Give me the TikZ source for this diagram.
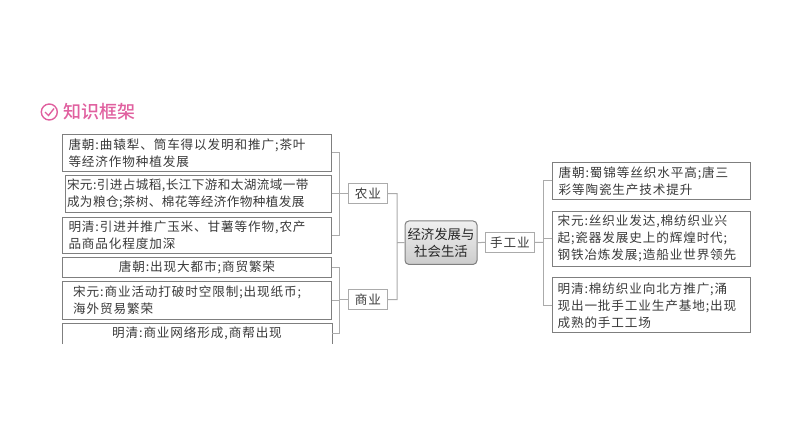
\documentclass[tikz,border=0pt]{standalone}
\usepackage{fontspec}
\newfontfamily\cjk[LetterSpace=7]{Noto Sans CJK SC}
\newfontfamily\cjktight[LetterSpace=3.2]{Noto Sans CJK SC}
\newfontfamily\cjkplain{Noto Sans CJK SC}
\newfontfamily\cjktitle{Noto Sans CJK SC Medium}
\usetikzlibrary{calc}
\definecolor{boxgray}{HTML}{7F7F7F}
\definecolor{linegray}{HTML}{ABABAB}
\definecolor{textgray}{HTML}{3A3A3A}
\definecolor{titlepink}{HTML}{E0609F}
\tikzset{
  item/.style={draw=boxgray,line width=1pt,fill=white,inner sep=0pt,font=\cjk\fontsize{12.6}{17}\selectfont,text=textgray,anchor=north west},
  cat/.style={draw=linegray,line width=.9pt,fill=white,inner sep=0pt,font=\cjk\fontsize{12.6}{15}\selectfont,text=textgray},
  link/.style={draw=linegray,line width=1pt},
}
\newcommand{\indL}[1]{\hspace*{#1pt}}
\begin{document}
\begin{tikzpicture}[x=1pt,y=-1pt]
\useasboundingbox (0,0) rectangle (794,447);
% title
\draw[titlepink,line width=1.4pt] (49.3,112) circle (8);
\coordinate (ck1) at (45,112);
\coordinate (ck2) at (48.5,115.5);
\coordinate (ck3) at (54,108.5);
\draw[titlepink,line width=1.4pt] (ck1) -- (ck2) -- (ck3);
\node[anchor=west,text=titlepink,inner sep=0pt,font=\cjktitle\fontsize{18}{20}\selectfont] (title) at (63,112) {知识框架};
% left column
\node[item,minimum width=269pt,minimum height=36.5pt,text width=266pt,align=left] (a1) at (62,134)
  {\indL{4.5}唐朝:曲辕犁、筒车得以发明和推广;茶叶\\\indL{4.5}等经济作物种植发展};
\node[item,font=\cjktight\fontsize{12.6}{17}\selectfont,minimum width=266pt,minimum height=36.5pt,text width=263pt,align=left] (a2) at (65,175)
  {宋元:引进占城稻,长江下游和太湖流域一带\\成为粮仓;茶树、棉花等经济作物种植发展};
\node[item,minimum width=269pt,minimum height=36.5pt,text width=266pt,align=left] (a3) at (62,216.5)
  {\indL{4.5}明清:引进并推广玉米、甘薯等作物,农产\\\indL{4.5}品商品化程度加深};
\node[item,minimum width=269pt,minimum height=20pt,align=center] (b1) at (62,257)
  {唐朝:出现大都市;商贸繁荣};
\node[item,minimum width=269pt,minimum height=38pt,text width=266pt,align=left] (b2) at (62,281)
  {\indL{9.2}宋元:商业活动打破时空限制;出现纸币;\\\indL{9.2}海外贸易繁荣};
\node[item,draw=none,minimum width=269pt,minimum height=20pt,align=center] (b3) at (62,323)
  {明清:商业网络形成,商帮出现};
\draw[boxgray,line width=1pt] (b3.south west) -- (b3.north west) -- (b3.north east) -- (b3.south east);
% categories
\node[cat,minimum width=39.5pt,minimum height=19.5pt] (nong) at (368,193.5) {农业};
\node[cat,minimum width=39.5pt,minimum height=19.5pt] (shang) at (368,299.5) {商业};
\node[draw=boxgray,line width=1pt,rounded corners=4pt,top color=black!6,bottom color=black!20,inner sep=0pt,minimum width=72pt,minimum height=43.5pt,align=center,text=black!85,font=\cjkplain\fontsize{13.4}{17.3}\selectfont] (core) at (441,242.7) {经济发展与\\社会生活};
\node[cat,minimum width=49pt,minimum height=20pt] (shou) at (510,242.3) {手工业};
% right column
\node[item,minimum width=197.5pt,minimum height=36.5pt,text width=194pt,align=left] (c1) at (552.3,162)
  {\indL{4}唐朝:蜀锦等丝织水平高;唐三\\\indL{4}彩等陶瓷生产技术提升};
\node[item,minimum width=197.5pt,minimum height=55pt,text width=194pt,align=left] (c2) at (552.3,210.7)
  {\indL{3}宋元:丝织业发达,棉纺织业兴\\\indL{3}起;瓷器发展史上的辉煌时代;\\\indL{3}钢铁冶炼发展;造船业世界领先};
\node[item,minimum width=197.5pt,minimum height=55pt,text width=194pt,align=left] (c3) at (552.3,277.3)
  {\indL{3}明清:棉纺织业向北方推广;涌\\\indL{3}现出一批手工业生产基地;出现\\\indL{3}成熟的手工工场};
% connectors
\coordinate (lj) at (339.5,193.5);
\coordinate (mj) at (339.5,299.5);
\coordinate (cj) at (397,242.5);
\coordinate (rj) at (543.3,242.3);
\draw[link] (a1.east) -| (lj) (a3.east) -| (lj) (a2.east) -- (a2.east -| lj) (lj) -- (nong.west);
\draw[link] (b1.east) -| (mj) (b3.east) -| (mj) (b2.east) -- (b2.east -| mj) (mj) -- (shang.west);
\draw[link] (nong.east) -| (cj) (shang.east) -| (cj) (cj) -- (core.west);
\draw[link] (core.east) -- (shou.west) (shou.east) -- (rj);
\draw[link] (c1.west) -| (rj) (c3.west) -| (rj) (c2.west) -- (c2.west -| rj);
\end{tikzpicture}
\end{document}
